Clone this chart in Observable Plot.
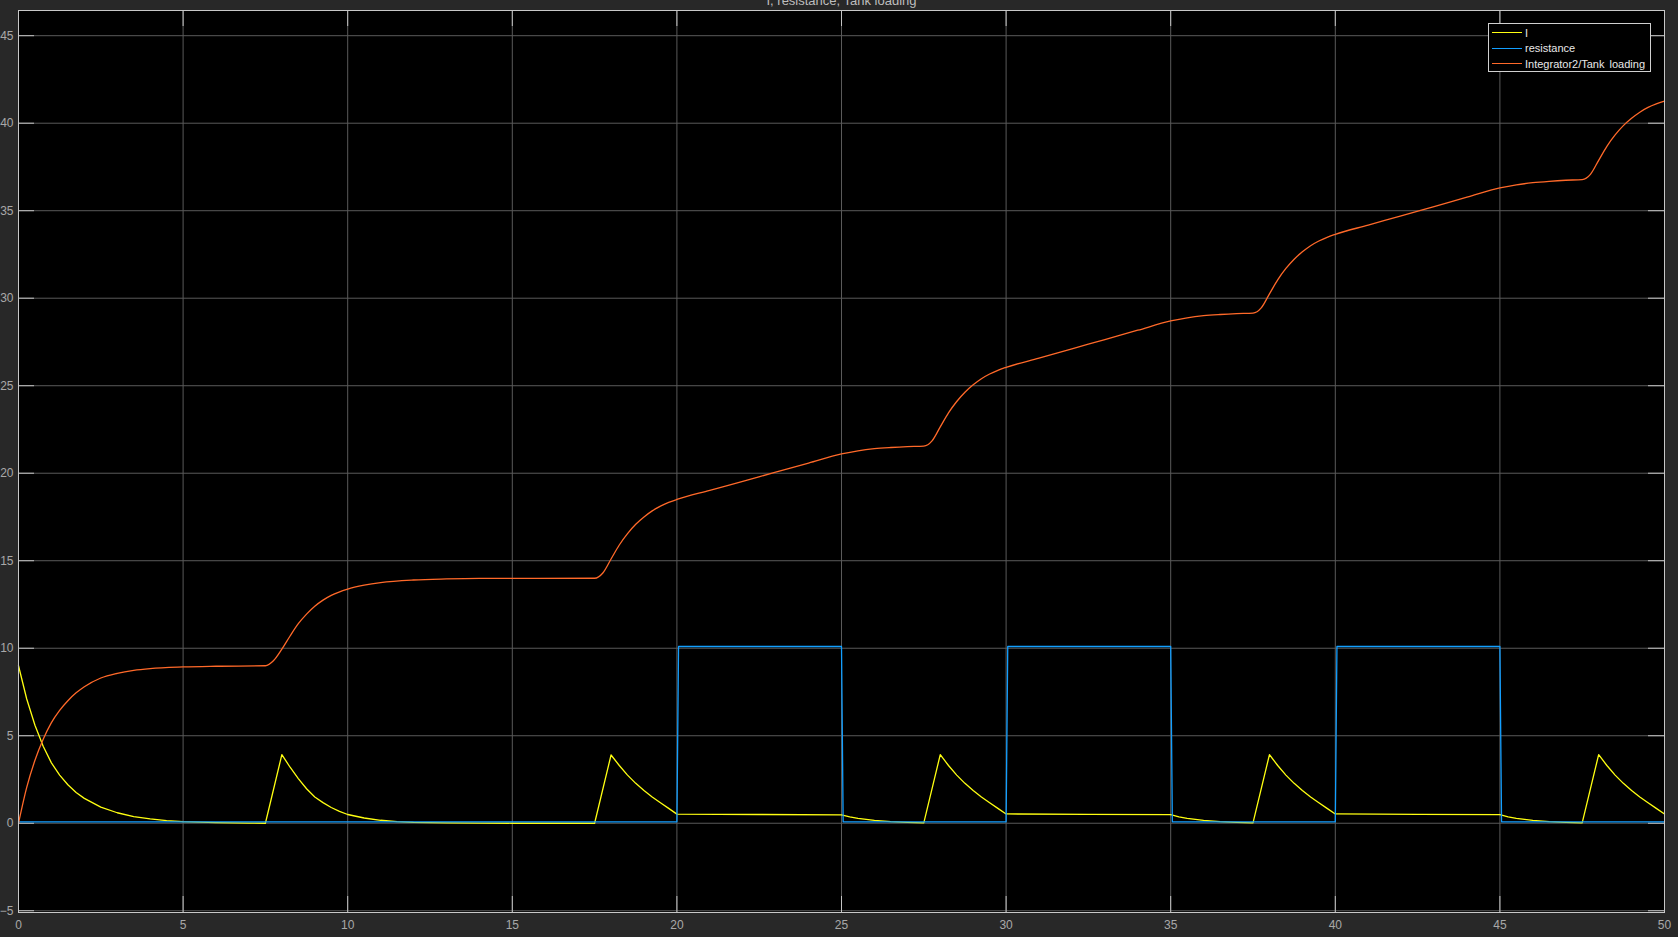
<!DOCTYPE html>
<html><head><meta charset="utf-8">
<script src="https://cdn.jsdelivr.net/npm/d3@7"></script>
<script src="https://cdn.jsdelivr.net/npm/@observablehq/plot@0.6"></script>
<style>
html,body{margin:0;padding:0;background:#282828;overflow:hidden}
#wrap{position:relative;width:1678px;height:937px}
#legend{position:absolute;left:1488px;top:23px;width:161px;height:47px;border:1px solid #d0d0d0;background:#000;font:11px "Liberation Sans",Arial,sans-serif;color:#e8e8e8}
.row{position:absolute;left:3px;height:14px;display:flex;align-items:center;white-space:pre;word-spacing:2px}
.sw{width:30px;height:0;border-top:1.3px solid;margin-right:3px}
</style></head><body><div id="wrap"><div id="legend"></div></div>
<script>
const title = "I, resistance, Tank loading";
const xTicks = [0,5,10,15,20,25,30,35,40,45,50];
const yTicks = [-5,0,5,10,15,20,25,30,35,40,45];
const seriesNames = ["I","resistance","Integrator2/Tank loading"];
const seriesColors = ["#ffff11","#139fff","#ff6929"];

const iTime = [0,0.25,0.5,0.75,1,1.25,1.5,1.75,2,2.5,3,3.5,4,4.5,5,6,7,7.5,
  8,8.25,8.5,8.75,9,9.25,9.5,9.75,10,10.5,11,11.5,12,13,14,15,17.5,
  18,18.25,18.5,18.75,19,19.25,19.5,19.75,20,22.5,25,
  25.25,25.5,25.75,26,26.5,27,27.5,
  28,28.25,28.5,28.75,29,29.25,29.5,29.75,30,32.5,35,
  35.25,35.5,35.75,36,36.5,37,37.5,
  38,38.25,38.5,38.75,39,39.25,39.5,39.75,40,42.5,45,
  45.25,45.5,45.75,46,46.5,47,47.5,
  48,48.25,48.5,48.75,49,49.25,49.5,49.75,50];
const iValue = [9.0,7.1,5.6,4.4,3.45,2.75,2.2,1.76,1.42,0.92,0.6,0.38,0.25,0.15,0.09,0.04,0.01,0.0,
  3.92,3.2,2.55,1.97,1.5,1.18,0.9,0.68,0.5,0.3,0.17,0.09,0.05,0.02,0.01,0.0,0.0,
  3.9,3.3,2.75,2.28,1.87,1.5,1.17,0.85,0.52,0.5,0.48,
  0.36,0.28,0.22,0.16,0.09,0.05,0.02,
  3.92,3.3,2.75,2.28,1.87,1.5,1.17,0.85,0.53,0.51,0.49,
  0.36,0.28,0.22,0.16,0.09,0.05,0.02,
  3.92,3.3,2.75,2.28,1.87,1.5,1.17,0.85,0.53,0.51,0.49,
  0.36,0.28,0.22,0.16,0.09,0.05,0.02,
  3.92,3.3,2.75,2.28,1.87,1.5,1.17,0.85,0.53];

const resTime = [0,20,20.05,25,25.05,30,30.05,35,35.05,40,40.05,45,45.05,50];
const resValue = [0.08,0.08,10.1,10.1,0.08,0.08,10.1,10.1,0.08,0.08,10.1,10.1,0.08,0.08];

const tankTime = [0,0.25,0.5,0.75,1,1.25,1.5,1.75,2,2.5,3,3.5,4,5,6,7.5,
  7.75,8,8.25,8.5,8.75,9,9.25,9.5,10,10.5,11,12,13,14,17.5,
  17.75,18,18.25,18.5,18.75,19,19.25,19.5,19.75,20,21,22,23,24,25,
  25.5,26,26.5,27,27.5,
  27.75,28,28.25,28.5,28.75,29,29.25,29.5,29.75,30,31,32,33,34,35,
  35.5,36,36.5,37,37.5,
  37.75,38,38.25,38.5,38.75,39,39.25,39.5,39.75,40,41,42,43,44,45,
  45.5,46,46.5,47,47.5,
  47.75,48,48.25,48.5,48.75,49,49.25,49.5,49.75,50];
const tankValue = [0,2.05,3.6,4.8,5.75,6.45,7.0,7.45,7.8,8.3,8.57,8.74,8.84,8.93,8.97,9.0,
  9.3,9.95,10.7,11.4,11.95,12.4,12.75,13.02,13.38,13.6,13.75,13.9,13.96,13.99,14.0,
  14.3,15.1,15.9,16.55,17.08,17.5,17.85,18.12,18.33,18.5,19.02,19.54,20.06,20.58,21.1,
  21.28,21.4,21.47,21.52,21.55,
  21.85,22.65,23.45,24.1,24.63,25.05,25.4,25.67,25.88,26.05,26.58,27.11,27.64,28.17,28.7,
  28.88,29.0,29.07,29.12,29.15,
  29.45,30.25,31.05,31.7,32.23,32.65,33.0,33.27,33.48,33.65,34.18,34.71,35.24,35.77,36.3,
  36.48,36.6,36.68,36.74,36.78,
  37.08,37.88,38.68,39.33,39.86,40.28,40.63,40.9,41.1,41.26];

const W = 1678, H = 937, mL = 18, mR = 14, mT = 10, mB = 25;
const innerW = W - mL - mR, innerH = H - mT - mB;
const toRows = (ts, vs) => ts.map((t, i) => ({t, v: vs[i]}));
const tickColor = "#c4c4c4", gridColor = "#5a5a5a";

const chart = Plot.plot({
  width: W, height: H,
  marginLeft: mL, marginRight: mR, marginTop: mT, marginBottom: mB,
  style: {background: "transparent", fontFamily: "'Liberation Sans', Arial, sans-serif", overflow: "visible"},
  x: {domain: [0, 50]},
  y: {domain: [-5.1, 46.44]},
  marks: [
    Plot.frame({fill: "#000", stroke: null}),
    Plot.gridX(xTicks, {stroke: gridColor, strokeOpacity: 1}),
    Plot.gridY(yTicks, {stroke: gridColor, strokeOpacity: 1}),
    Plot.tickY(yTicks, {y: d => d, stroke: tickColor, insetRight: innerW - 16}),
    Plot.tickY(yTicks, {y: d => d, stroke: tickColor, insetLeft: innerW - 16}),
    Plot.tickX(xTicks, {x: d => d, stroke: tickColor, insetTop: innerH - 16}),
    Plot.tickX(xTicks, {x: d => d, stroke: tickColor, insetBottom: innerH - 16}),
    Plot.line(toRows(iTime, iValue), {x: "t", y: "v", stroke: seriesColors[0], strokeWidth: 1.3}),
    Plot.line(toRows(resTime, resValue), {x: "t", y: "v", stroke: seriesColors[1], strokeWidth: 1.3}),
    Plot.line(toRows(tankTime, tankValue), {x: "t", y: "v", stroke: seriesColors[2], strokeWidth: 1.3, curve: "monotone-x"}),
    Plot.frame({stroke: "#c8c8c8"}),
    Plot.axisX(xTicks, {tickSize: 0, tickPadding: 8, fontSize: 12, color: "#a8a8a8", label: null}),
    Plot.axisY(yTicks, {tickSize: 0, tickPadding: 5, fontSize: 12, color: "#a8a8a8", label: null}),
    Plot.text([title], {text: d => d, frameAnchor: "top", dy: -6, lineAnchor: "bottom", fill: "#bdbdbd", fontSize: 13})
  ]
});
document.getElementById("wrap").prepend(chart);

const legend = document.getElementById("legend");
const rowTops = [1.7, 17.3, 32.8];
seriesNames.forEach((name, i) => {
  const row = document.createElement("div");
  row.className = "row";
  row.style.top = rowTops[i] + "px";
  const sw = document.createElement("span");
  sw.className = "sw";
  sw.style.borderTopColor = seriesColors[i];
  const tx = document.createElement("span");
  tx.textContent = name;
  row.appendChild(sw); row.appendChild(tx);
  legend.appendChild(row);
});
</script>
</body></html>
